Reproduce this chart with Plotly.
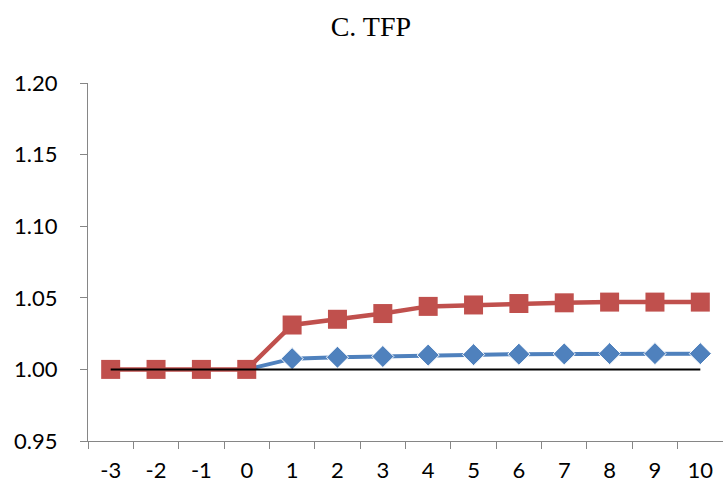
import plotly.graph_objects as go

periods = ["-3", "-2", "-1", "0", "1", "2", "3", "4", "5", "6", "7", "8", "9", "10"]
red_vals = [1.000, 1.000, 1.000, 1.000, 1.031, 1.035, 1.039, 1.044, 1.045, 1.046, 1.0465, 1.047, 1.047, 1.047]
blue_vals = [None, None, None, 1.000, 1.0075, 1.0085, 1.009, 1.010, 1.0103, 1.0106, 1.0108, 1.011, 1.011, 1.011]
base_vals = [1.0] * len(periods)
y_ticks = [0.95, 1.00, 1.05, 1.10, 1.15, 1.20]

blue_sizes = [0 if i <= 3 else 17 for i in range(len(periods))]

fig = go.Figure()
fig.add_trace(go.Scatter(x=periods, y=blue_vals, mode="lines+markers",
                         line=dict(color="#4F81BD", width=4),
                         marker=dict(symbol="diamond", size=blue_sizes, color="#4F81BD", opacity=1),
                         showlegend=False))
fig.add_trace(go.Scatter(x=periods, y=red_vals, mode="lines+markers",
                         line=dict(color="#C0504D", width=4.5),
                         marker=dict(symbol="square", size=19, color="#C0504D"),
                         showlegend=False))
fig.add_trace(go.Scatter(x=periods, y=base_vals, mode="lines",
                         line=dict(color="black", width=2),
                         showlegend=False))

fig.update_layout(
    width=723, height=490,
    margin=dict(l=88, r=0, t=83, b=49),
    paper_bgcolor="white", plot_bgcolor="white",
    title=dict(text="C. TFP", x=0.513, xanchor="center", y=0.947, yanchor="middle",
               font=dict(family="Liberation Serif", size=28, color="black")),
    xaxis=dict(type="category", tickson="boundaries", ticks="outside", ticklen=7,
               tickcolor="#868686", showline=True, linecolor="#868686", linewidth=1,
               showgrid=False, zeroline=False, range=[-0.5, 13.5],
               ticklabelstandoff=10, automargin=False,
               tickfont=dict(family="Lato", size=22, color="black")),
    yaxis=dict(range=[0.95, 1.20], tickvals=y_ticks, tickformat=".2f",
               ticks="outside", ticklen=7, tickcolor="#868686",
               showline=True, linecolor="#868686", linewidth=1,
               showgrid=False, zeroline=False, ticklabelstandoff=18, automargin=False,
               tickfont=dict(family="Lato", size=22, color="black")),
)

fig.write_html("out.html", config={"displayModeBar": False},
               post_script="document.body.style.margin='0';document.body.style.overflow='hidden';")
